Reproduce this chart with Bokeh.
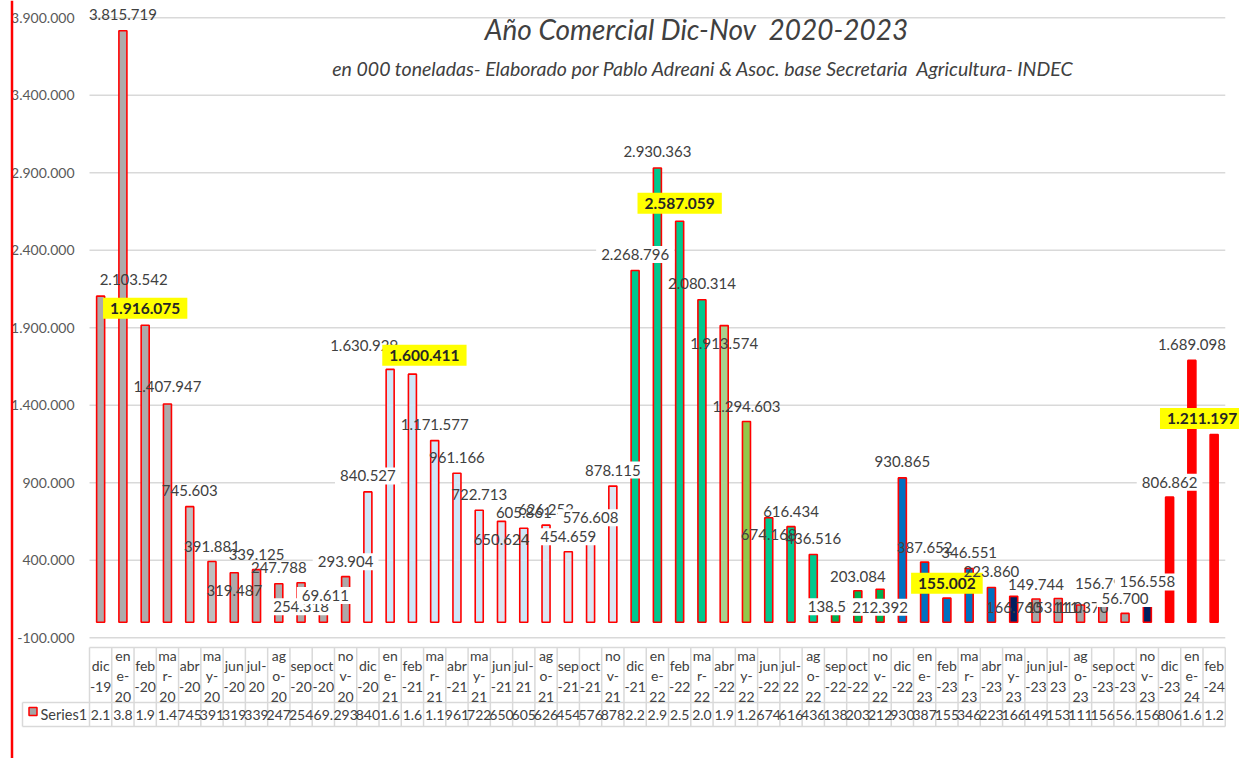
from bokeh.plotting import figure
from bokeh.models import Range1d, Label
from bokeh.embed import file_html
from bokeh.resources import INLINE
from bokeh.core.properties import value

# ---------------- data ----------------
categories = ["dic-19", "ene-20", "feb-20", "mar-20", "abr-20", "may-20", "jun-20", "jul-20",
              "ago-20", "sep-20", "oct-20", "nov-20",
              "dic-20", "ene-21", "feb-21", "mar-21", "abr-21", "may-21", "jun-21", "jul-21",
              "ago-21", "sep-21", "oct-21", "nov-21",
              "dic-21", "ene-22", "feb-22", "mar-22", "abr-22", "may-22", "jun-22", "jul-22",
              "ago-22", "sep-22", "oct-22", "nov-22",
              "dic-22", "ene-23", "feb-23", "mar-23", "abr-23", "may-23", "jun-23", "jul-23",
              "ago-23", "sep-23", "oct-23", "nov-23",
              "dic-23", "ene-24", "feb-24"]

values = [2103542, 3815719, 1916075, 1407947, 745603, 391881, 319487, 339125,
          247788, 254318, 69611, 293904,
          840527, 1630929, 1600411, 1171577, 961166, 722713, 650624, 605861,
          626253, 454659, 576608, 878115,
          2268796, 2930363, 2587059, 2080314, 1913574, 1294603, 674168, 616434,
          436516, 138512, 203084, 212392,
          930865, 387652, 155002, 346551, 223860, 166760, 149744, 153110,
          111370, 156790, 56700, 156558,
          806862, 1689098, 1211197]

y_ticks = [-100000, 400000, 900000, 1400000, 1900000, 2400000, 2900000, 3400000, 3900000]
y_tick_labels = ["-100.000", "400.000", "900.000", "1.400.000", "1.900.000",
                 "2.400.000", "2.900.000", "3.400.000", "3.900.000"]

series_name = "Series1"
title2 = "Año Comercial Dic-Nov\u00a0 2020-2023"
subtitle = "en 000 toneladas- Elaborado por Pablo Adreani & Asoc. base Secretaria\u00a0 Agricultura- INDEC"

# ---------------- styles ----------------
GRAY = "#AEAAAA"
LGRAY = "#BFBFBF"
LBLUE = "#CFE7F8"
LBLUE2 = "#DCE6F2"
GREEN = "#00C88E"
OLIVE1 = "#A9D18E"
OLIVE2 = "#92C84A"
DGREEN = "#00B050"
BLUE = "#0070C0"
NAVY = "#002060"
MGRAY = "#A5A5A5"
RED = "#FF0000"

bar_colors = ([GRAY, GRAY, GRAY, GRAY, LGRAY, LGRAY, GRAY, GRAY, GRAY, GRAY, GRAY, GRAY] +
              [LBLUE, LBLUE, LBLUE, LBLUE, LBLUE, LBLUE, LBLUE2, LBLUE, LBLUE2, LBLUE2, LBLUE2, LBLUE2] +
              [GREEN, GREEN, GREEN, GREEN, OLIVE1, OLIVE2, GREEN, GREEN, GREEN, DGREEN, DGREEN, DGREEN] +
              [BLUE, BLUE, BLUE, BLUE, BLUE, NAVY, MGRAY, MGRAY, MGRAY, MGRAY, MGRAY, NAVY] +
              [RED, RED, RED])

# label style: 0 plain, 1 white box, 2 yellow bold box
label_kind = [0, 0, 2, 0, 0, 0, 0, 0, 0, 1, 1, 1,
              1, 0, 2, 0, 0, 0, 0, 0, 0, 1, 1, 1,
              1, 0, 2, 0, 0, 0, 0, 0, 0, 1, 0, 1,
              0, 0, 2, 0, 0, 0, 0, 0, 0, 0, 1, 1,
              1, 0, 2]
label_dx = [33, 0, 0, 0, 0, 0, 0, 0, 0, 0, 2, 0,
            0, -26, 12, 0, 0, 0, 0, 0, 0, 0, 0, 0,
            0, 0, 0, 0, 0, 0, 0, 0, 0, 0, 0, 0,
            0, 0, 0, 0, 0, 0, 0, -4, 0, 0, 0, 0,
            0, 0, -12]
label_dy = [17, 16, 17, 17, 16, 15, -18, 15, 16, -24, 16, 15,
            16, 24, 19, 16, 16, 16, -18, 16, 16, 15, 15, 16,
            16, 16, 18, 16, -18, 15, -17, 15, 16, -6, 14, -18,
            16, 15, 15, 16, 16, -11, 14, -9, -3, 14, 15, 16,
            15, 16, 16]

# ---------------- geometry (pixel layout) ----------------
W, H = 1239, 758
LEFT = 89.0                  # left of category area (px)
STEP = 22.27                 # px per category
Y0 = 621.7                   # px of value 0
SCALE = 77.5 / 500000.0      # px per unit

x_start = (0 - LEFT) / STEP
x_end = (W - LEFT) / STEP
y_end = Y0 / SCALE
y_start = (Y0 - H) / SCALE

p = figure(width=W, height=H, output_backend="svg", toolbar_location=None,
           x_range=Range1d(x_start, x_end), y_range=Range1d(y_start, y_end),
           x_axis_location=None, y_axis_location=None, min_border=0,
           background_fill_color="white", border_fill_color="white")
p.extra_x_ranges = {"px": Range1d(0, W)}
p.extra_y_ranges = {"px": Range1d(H, 0)}
p.outline_line_color = None
p.grid.visible = False

FONTNAME = "Lato"
FONT = value(FONTNAME)
TXT = "#404040"
n = len(categories)

# gridlines
p.segment(x0=[0] * len(y_ticks), x1=[n] * len(y_ticks), y0=y_ticks, y1=y_ticks,
          line_color="#D9D9D9", line_width=1.5)
# y tick labels
p.text(x=[0] * len(y_ticks), y=y_ticks, text=y_tick_labels, x_offset=-15,
       text_align="right", text_baseline="middle", text_font=FONT,
       text_font_size="14px", text_color="#595959")

# bars
xs = [i + 0.5 for i in range(n)]
p.vbar(x=xs, top=values, bottom=0, width=0.36, fill_color=bar_colors,
       line_color=RED, line_width=1.6)


def fmt(v):
    return f"{v:,}".replace(",", ".")


# data labels
for i in range(n):
    k = label_kind[i]
    kw = dict(x=xs[i], y=values[i], x_offset=label_dx[i], y_offset=label_dy[i],
              text=fmt(values[i]), text_align="center", text_baseline="middle",
              text_font=FONTNAME, text_font_size="15px", text_color=TXT)
    if k == 1:
        kw.update(background_fill_color="white", padding=(5, 3))
    elif k == 2:
        kw.update(background_fill_color="#FFFF00", padding=(7, 5),
                  text_font_style="bold", text_font_size="15.5px", text_color="#262626")
    p.add_layout(Label(**kw))

# titles
p.add_layout(Label(x=696, y=28, x_range_name="px", y_range_name="px", text=title2,
                   text_align="center", text_baseline="middle", text_font=FONTNAME,
                   text_font_style="italic", text_font_size="28px", text_color=TXT))
p.add_layout(Label(x=703, y=68, x_range_name="px", y_range_name="px", text=subtitle,
                   text_align="center", text_baseline="middle", text_font=FONTNAME,
                   text_font_style="italic", text_font_size="19.5px", text_color=TXT))

# ---------------- data table ----------------
TOP, MID, BOT = 647.0, 702.0, 726.0
TCOL = "#D9D9D9"
p.segment(x0=list(range(n + 1)), x1=list(range(n + 1)), y0=[TOP] * (n + 1), y1=[BOT] * (n + 1),
          y_range_name="px", line_color=TCOL, line_width=1.5)
p.segment(x0=[0, 0], x1=[n, n], y0=[TOP, MID], y1=[TOP, MID], y_range_name="px",
          line_color=TCOL, line_width=1.5)
p.segment(x0=[22, 22, 22], x1=[22, 89, LEFT + n * STEP], y0=[MID, MID, BOT], y1=[BOT, MID, BOT],
          x_range_name="px", y_range_name="px", line_color=TCOL, line_width=1.5)


def wrap(c):
    m, yy = c.split("-")
    if m in ("ene", "mar", "may", "ago", "nov"):
        return m[:2] + "\n" + m[2] + "-\n" + yy
    if m == "jul":
        return m + "-\n" + yy
    return m + "\n-" + yy


p.text(x=xs, y=[(TOP + MID) / 2 + 1] * n, y_range_name="px", text=[wrap(c) for c in categories],
       text_align="center", text_baseline="middle", text_font=FONT, text_font_size="14px",
       text_color=TXT, text_line_height=1.2)
p.text(x=xs, y=[(MID + BOT) / 2] * n, y_range_name="px", text=[fmt(v)[:3] for v in values],
       text_align="center", text_baseline="middle", text_font=FONT, text_font_size="14px",
       text_color=TXT)

# legend key
p.rect(x=[32.5], y=[711], width=8, height=8, x_range_name="px", y_range_name="px",
       fill_color=MGRAY, line_color=RED, line_width=1.5)
p.text(x=[40], y=[714], x_range_name="px", y_range_name="px", text=[series_name],
       text_align="left", text_baseline="middle", text_font=FONT, text_font_size="14.5px",
       text_color=TXT)

# red frame line at left
p.segment(x0=[11.5], x1=[11.5], y0=[0], y1=[H], x_range_name="px", y_range_name="px",
          line_color=RED, line_width=2.5)

open("out.html", "w").write(file_html(p, INLINE))
